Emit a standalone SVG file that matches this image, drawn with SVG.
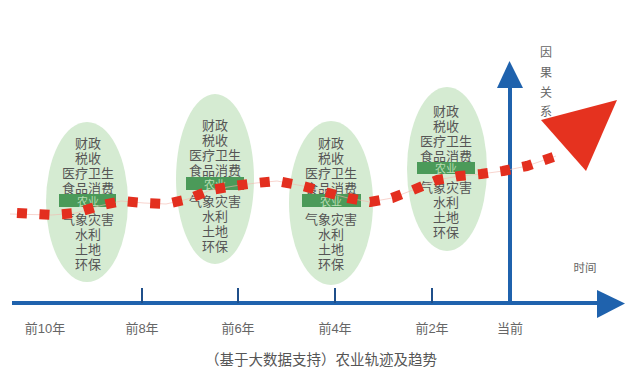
<svg xmlns="http://www.w3.org/2000/svg" width="637" height="381" viewBox="0 0 637 381">
<defs>
<style>
text{font-family:"Noto Sans CJK SC","Liberation Sans",sans-serif;}
.ell{fill:#d5ebd2;}
.it{font-size:13px;fill:#555;text-anchor:middle;dominant-baseline:central;}
.band{fill:#4b9a59;}
.bt{font-size:11px;fill:#b7dcb2;text-anchor:middle;dominant-baseline:central;}
.axis{stroke:#1f62ad;stroke-width:4;fill:none;}
.tick{stroke:#1f4f8a;stroke-width:2;}
.ah{fill:#1f62ad;}
.lbl{font-size:13px;fill:#666;text-anchor:middle;dominant-baseline:central;font-family:"Liberation Sans","Noto Sans CJK SC",sans-serif;}
.dots{fill:none;stroke:#e32f1f;stroke-width:10;stroke-dasharray:10 12.5;}
.glow{fill:none;stroke:#f4b8ae;stroke-width:1;opacity:0.6;}
</style>
</defs>
<rect width="637" height="381" fill="#ffffff"/>

<g id="node-e1">
<ellipse class="ell" cx="87" cy="202" rx="41" ry="80"/>
<text class="it" x="88" y="142">财政</text>
<text class="it" x="88" y="157">税收</text>
<text class="it" x="88" y="172">医疗卫生</text>
<text class="it" x="88" y="187">食品消费</text>
<rect class="band" x="59" y="194" width="57" height="13"/>
<text class="bt" x="88" y="200.5">农业</text>
<text class="it" x="88" y="218">气象灾害</text>
<text class="it" x="88" y="233">水利</text>
<text class="it" x="88" y="248">土地</text>
<text class="it" x="88" y="263">环保</text>
</g>

<g id="node-e2">
<ellipse class="ell" cx="215" cy="179" rx="39" ry="85"/>
<text class="it" x="215" y="124">财政</text>
<text class="it" x="215" y="139">税收</text>
<text class="it" x="215" y="154">医疗卫生</text>
<text class="it" x="215" y="169">食品消费</text>
<rect class="band" x="186" y="177" width="58" height="13"/>
<text class="bt" x="215" y="183.5">农业</text>
<text class="it" x="215" y="200">气象灾害</text>
<text class="it" x="215" y="215">水利</text>
<text class="it" x="215" y="230">土地</text>
<text class="it" x="215" y="245">环保</text>
</g>

<g id="node-e3">
<ellipse class="ell" cx="331" cy="203" rx="42" ry="82"/>
<text class="it" x="331" y="142">财政</text>
<text class="it" x="331" y="157">税收</text>
<text class="it" x="331" y="172">医疗卫生</text>
<text class="it" x="331" y="187">食品消费</text>
<rect class="band" x="302" y="194" width="59" height="13"/>
<text class="bt" x="331" y="200.5">农业</text>
<text class="it" x="331" y="218">气象灾害</text>
<text class="it" x="331" y="233">水利</text>
<text class="it" x="331" y="248">土地</text>
<text class="it" x="331" y="263">环保</text>
</g>

<g id="node-e4">
<ellipse class="ell" cx="447" cy="169" rx="40" ry="82"/>
<text class="it" x="446" y="110">财政</text>
<text class="it" x="446" y="125">税收</text>
<text class="it" x="446" y="140">医疗卫生</text>
<text class="it" x="446" y="155">食品消费</text>
<rect class="band" x="417" y="162" width="58" height="12"/>
<text class="bt" x="446" y="168">农业</text>
<text class="it" x="446" y="186">气象灾害</text>
<text class="it" x="446" y="201">水利</text>
<text class="it" x="446" y="216">土地</text>
<text class="it" x="446" y="231">环保</text>
</g>

<g id="axes">
<line class="axis" x1="12" y1="303" x2="600" y2="303"/>
<polygon class="ah" points="597,290 625,303.5 597,318"/>
<line class="axis" x1="510" y1="303" x2="510" y2="86"/>
<polygon class="ah" points="497,88 509.5,61 523,88"/>
<line class="tick" x1="142" y1="288" x2="142" y2="303"/>
<line class="tick" x1="238" y1="288" x2="238" y2="303"/>
<line class="tick" x1="335" y1="288" x2="335" y2="303"/>
<line class="tick" x1="432" y1="288" x2="432" y2="303"/>
<text class="lbl" x="45" y="328">前10年</text>
<text class="lbl" x="142" y="328">前8年</text>
<text class="lbl" x="238" y="328">前6年</text>
<text class="lbl" x="335" y="328">前4年</text>
<text class="lbl" x="432" y="328">前2年</text>
<text class="lbl" x="510" y="328">当前</text>
<text class="lbl" x="585" y="268" style="font-size:11.5px">时间</text>
<text class="lbl" x="546" y="53" style="font-size:12px">因</text>
<text class="lbl" x="546" y="73" style="font-size:12px">果</text>
<text class="lbl" x="546" y="93" style="font-size:12px">关</text>
<text class="lbl" x="546" y="112" style="font-size:12px">系</text>
</g>

<g id="connectors">
<polyline class="glow" points="10,214 52,215 76,213 99,206 121,201 144,203 166,204 188,199 211,190 234,186 256,183 277,181 303,186 325,192 348,198 370,202 392,198 413,190 437,180 459,176 481,174 503,171 527,166 556,156"/>
<polyline class="dots" stroke-linejoin="round" points="17,213 52,215 76,213 99,206 121,201 144,203 166,204 188,199 211,190 234,186 256,183 277,181 303,186 325,192 348,198 370,202 392,198 413,190 437,180 459,176 481,174 503,171 527,166 556,156"/>
<polygon fill="#e5321f" points="541,120 617,100 586,171"/>
</g>

<text x="321" y="358" text-anchor="middle" dominant-baseline="central" style="font-size:14.5px;fill:#555">（基于大数据支持）农业轨迹及趋势</text>
</svg>
